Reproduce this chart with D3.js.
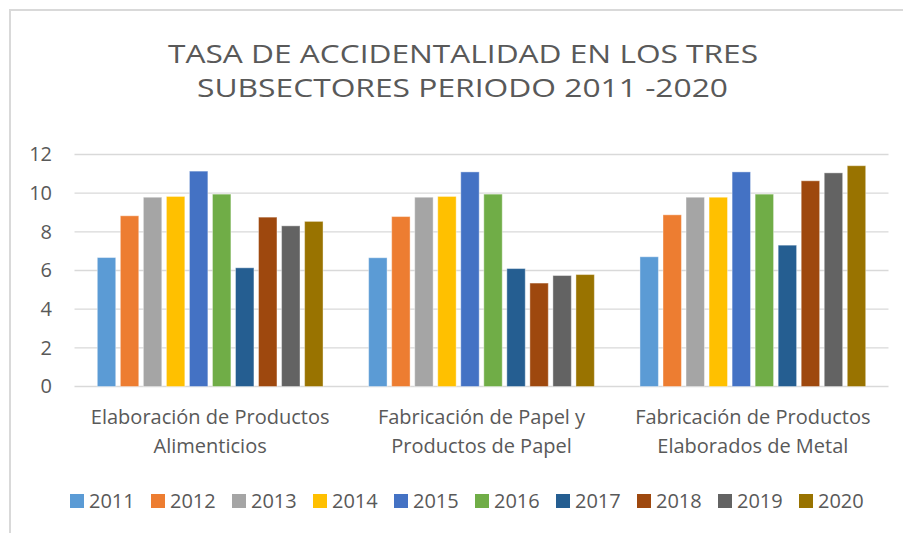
<!DOCTYPE html>
<html>
<head>
<meta charset="utf-8">
<script src="https://cdn.jsdelivr.net/npm/d3@7"></script>
<style>
  body { margin: 0; background: #fff; }
  text { font-family: "Open Sans", sans-serif; fill: #595959; }
</style>
</head>
<body>
<svg id="chart" width="903" height="533"></svg>
<script>
// data
var categories = [
    ["Elaboración de Productos", "Alimenticios"],
    ["Fabricación de Papel y", "Productos de Papel"],
    ["Fabricación de Productos", "Elaborados de Metal"]
];
var years = ["2011", "2012", "2013", "2014", "2015", "2016", "2017", "2018", "2019", "2020"];
var alimenticios = [6.67, 8.83, 9.79, 9.83, 11.14, 9.95, 6.14, 8.76, 8.31, 8.54];
var papel        = [6.66, 8.79, 9.79, 9.83, 11.10, 9.95, 6.10, 5.35, 5.74, 5.79];
var metal        = [6.71, 8.88, 9.79, 9.79, 11.10, 9.95, 7.31, 10.64, 11.05, 11.42];
var yTicks = [0, 2, 4, 6, 8, 10, 12];
var colors = ["#5B9BD5", "#ED7D31", "#A5A5A5", "#FFC000", "#4472C4",
              "#70AD47", "#255E91", "#9E480E", "#636363", "#997300"];

var series = [alimenticios, papel, metal];

var svg = d3.select("#chart");

// frame
svg.append("path")
    .attr("d", "M10,540 L10,10 L910,10")
    .style("fill", "none")
    .style("stroke", "#d9d9d9")
    .style("stroke-width", 2);

// title (the original font is narrower, so stretch it to the same width)
var title = svg.append("g")
    .style("font-size", "26px");
title.append("text")
    .attr("x", 168).attr("y", 63)
    .attr("textLength", 590)
    .attr("lengthAdjust", "spacingAndGlyphs")
    .text("TASA DE ACCIDENTALIDAD EN LOS TRES");
title.append("text")
    .attr("x", 197).attr("y", 97)
    .attr("textLength", 531)
    .attr("lengthAdjust", "spacingAndGlyphs")
    .text("SUBSECTORES PERIODO 2011 -2020");

var x0 = d3.scaleBand()
    .domain(d3.range(categories.length))
    .range([74.5, 888.5])
    .padding(0);

var x1 = d3.scaleBand()
    .domain(years)
    .range([20.5, x0.bandwidth() - 20.5])
    .paddingInner(0.2)
    .paddingOuter(0.1);

var y = d3.scaleLinear()
    .domain([0, 12])
    .range([386.5, 154.5]);

// grid lines
svg.append("g")
    .selectAll("line")
    .data(yTicks)
    .join("line")
    .attr("x1", 74.5)
    .attr("x2", 888.5)
    .attr("y1", function(d) { return y(d); })
    .attr("y2", function(d) { return y(d); })
    .style("stroke", "#d9d9d9")
    .style("stroke-width", 1.3);

// y axis labels
var yAxis = svg.append("g")
    .attr("transform", "translate(62,0)")
    .call(d3.axisLeft(y).tickValues(yTicks).tickSize(0).tickPadding(10));
yAxis.select(".domain").remove();
yAxis.selectAll("text")
    .style("font-size", "20px")
    .style("font-family", "'Open Sans', sans-serif")
    .attr("fill", "#595959");

// bars
var groups = svg.append("g")
    .selectAll("g")
    .data(series)
    .join("g")
    .attr("transform", function(d, i) { return "translate(" + x0(i) + ",0)"; });

groups.selectAll("rect")
    .data(function(d) { return d.map(function(v, j) { return {year: years[j], value: v, k: j}; }); })
    .join("rect")
    .attr("x", function(d) { return x1(d.year); })
    .attr("width", x1.bandwidth())
    .attr("y", function(d) { return y(d.value); })
    .attr("height", function(d) { return y(0) - y(d.value); })
    .style("fill", function(d) { return colors[d.k]; })
    .style("stroke", "#ffffff")
    .style("stroke-opacity", 0.4)
    .style("stroke-width", 1);

// category labels
var catLabels = svg.append("g")
    .selectAll("text")
    .data(categories)
    .join("text")
    .attr("text-anchor", "middle")
    .style("font-size", "20px");
catLabels.each(function(d, i) {
    var t = d3.select(this);
    var cx = x0(i) + x0.bandwidth() / 2;
    t.append("tspan").attr("x", cx).attr("y", 424).text(d[0]);
    t.append("tspan").attr("x", cx).attr("y", 453).text(d[1]);
});

// legend
var legend = svg.append("g")
    .selectAll("g")
    .data(years)
    .join("g")
    .attr("transform", function(d, i) { return "translate(" + (70 + i * 81) + ",494)"; });
legend.append("rect")
    .attr("width", 14)
    .attr("height", 14)
    .style("fill", function(d, i) { return colors[i]; });
legend.append("text")
    .attr("x", 19)
    .attr("y", 14)
    .style("font-size", "20px")
    .text(function(d) { return d; });
</script>
</body>
</html>
